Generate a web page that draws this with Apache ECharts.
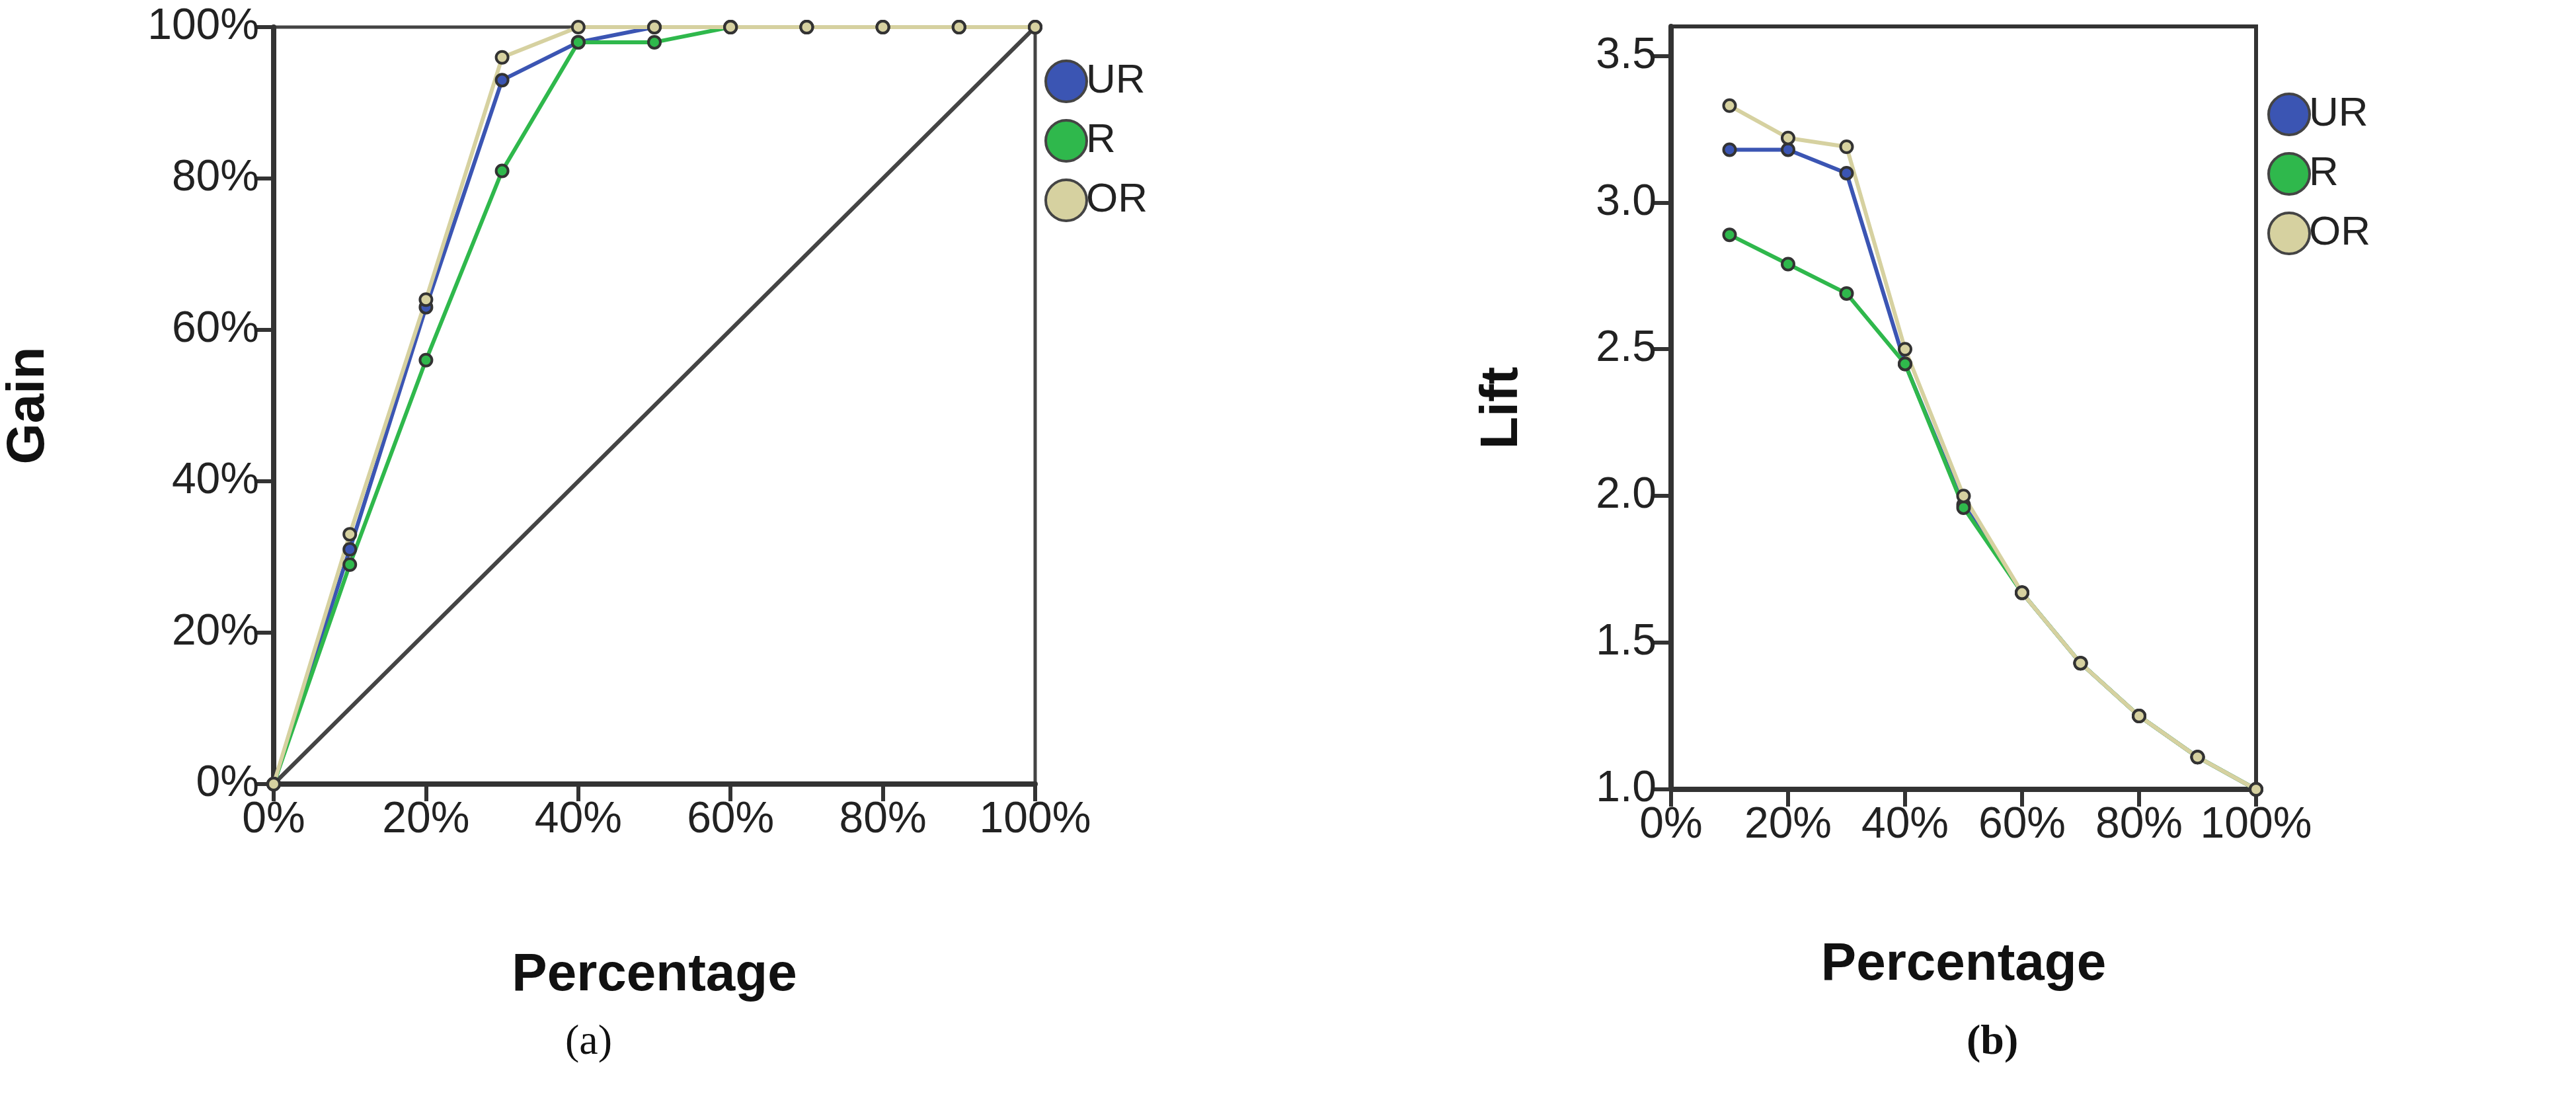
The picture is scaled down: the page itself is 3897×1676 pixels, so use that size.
<!DOCTYPE html>
<html><head><meta charset="utf-8">
<script src="https://cdn.jsdelivr.net/npm/echarts@6/dist/echarts.min.js"></script>
<style>html,body{margin:0;background:#fff}#c{width:3897px;height:1676px}</style>
</head><body><div id="c"></div>
<script>
const gainX = [0,10,20,30,40,50,60,70,80,90,100];
const gainUR = [0,31,63,93,98,100,100,100,100,100,100];
const gainR  = [0,29,56,81,98,98,100,100,100,100,100];
const gainOR = [0,33,64,96,100,100,100,100,100,100,100];
const baseline = [0,100];
const liftX = [10,20,30,40,50,60,70,80,90,100];
const liftUR = [3.18,3.18,3.10,2.45,1.97,1.67,1.43,1.25,1.11,1.0];
const liftR  = [2.89,2.79,2.69,2.45,1.96,1.67,1.43,1.25,1.11,1.0];
const liftOR = [3.33,3.22,3.19,2.50,2.00,1.67,1.43,1.25,1.11,1.0];
const names = ['UR','R','OR'];
const colors = ['#3b55b3','#2fb84c','#d6d1a0'];

const chart = echarts.init(document.getElementById('c'));
const font = 'Liberation Sans, Arial, sans-serif';
const axisLine = {show:true,lineStyle:{color:'#333',width:8}};
const tick = {show:true,length:26,lineStyle:{color:'#333',width:6}};
const lab = {color:'#222',fontSize:66,fontFamily:font,margin:22};
const nameStyle = {fontSize:80,fontWeight:'bold',color:'#111',fontFamily:font};
function zip(x,y){return x.map((v,i)=>[v,y[i]]);}
function ser(i,xi,yi,x,y){
  return {name:names[i],type:'line',xAxisIndex:xi,yAxisIndex:yi,data:zip(x,y),
    symbol:'circle',symbolSize:18,lineStyle:{color:colors[i],width:6},
    itemStyle:{color:colors[i],borderColor:'#333',borderWidth:4},z:3};
}
const legendBase = {data:names,orient:'vertical',itemWidth:62,itemHeight:62,itemGap:24,icon:'circle',
  textStyle:{fontSize:62,color:'#222',fontFamily:font,padding:[0,0,0,-6]},
  itemStyle:{borderColor:'#444',borderWidth:4}};
chart.setOption({
  animation:false,
  grid:[
    {left:414,top:41,width:1152,height:1145,show:true,borderColor:'#444',borderWidth:5},
    {left:2528,top:40,width:885,height:1154,show:true,borderColor:'#333',borderWidth:6}
  ],
  legend:[
    {...legendBase,left:1575,top:85},
    {...legendBase,left:3425,top:135}
  ],
  xAxis:[
    {gridIndex:0,type:'value',min:0,max:100,interval:20,axisLine,axisTick:tick,
     splitLine:{show:false},axisLabel:{...lab,formatter:v=>v+'%'},
     name:'Percentage',nameLocation:'middle',nameGap:250,nameTextStyle:nameStyle},
    {gridIndex:1,type:'value',min:0,max:100,interval:20,axisLine,axisTick:tick,
     splitLine:{show:false},axisLabel:{...lab,formatter:v=>v+'%'},
     name:'Percentage',nameLocation:'middle',nameGap:226,nameTextStyle:nameStyle}
  ],
  yAxis:[
    {gridIndex:0,type:'value',min:0,max:100,interval:20,axisLine,axisTick:tick,
     splitLine:{show:false},axisLabel:{...lab,formatter:v=>v+'%'},
     name:'Gain',nameLocation:'middle',nameGap:330,nameTextStyle:nameStyle},
    {gridIndex:1,type:'value',min:1.0,max:3.6,interval:0.5,axisLine,axisTick:tick,
     splitLine:{show:false},axisLabel:{...lab,showMaxLabel:false,formatter:v=>v.toFixed(1)},
     name:'Lift',nameLocation:'middle',nameGap:215,nameTextStyle:nameStyle}
  ],
  series:[
    {type:'line',xAxisIndex:0,yAxisIndex:0,data:zip(baseline,baseline),symbol:'none',
     lineStyle:{color:'#444',width:6},silent:true,z:2},
    ser(0,0,0,gainX,gainUR),ser(1,0,0,gainX,gainR),ser(2,0,0,gainX,gainOR),
    ser(0,1,1,liftX,liftUR),ser(1,1,1,liftX,liftR),ser(2,1,1,liftX,liftOR)
  ],
  graphic:[
    {type:'text',left:855,top:1545,style:{text:'(a)',fontSize:64,fontFamily:'Liberation Serif, serif',fill:'#111'}},
    {type:'text',left:2975,top:1545,style:{text:'(b)',fontSize:64,fontWeight:'bold',fontFamily:'Liberation Serif, serif',fill:'#111'}}
  ]
});
</script></body></html>
